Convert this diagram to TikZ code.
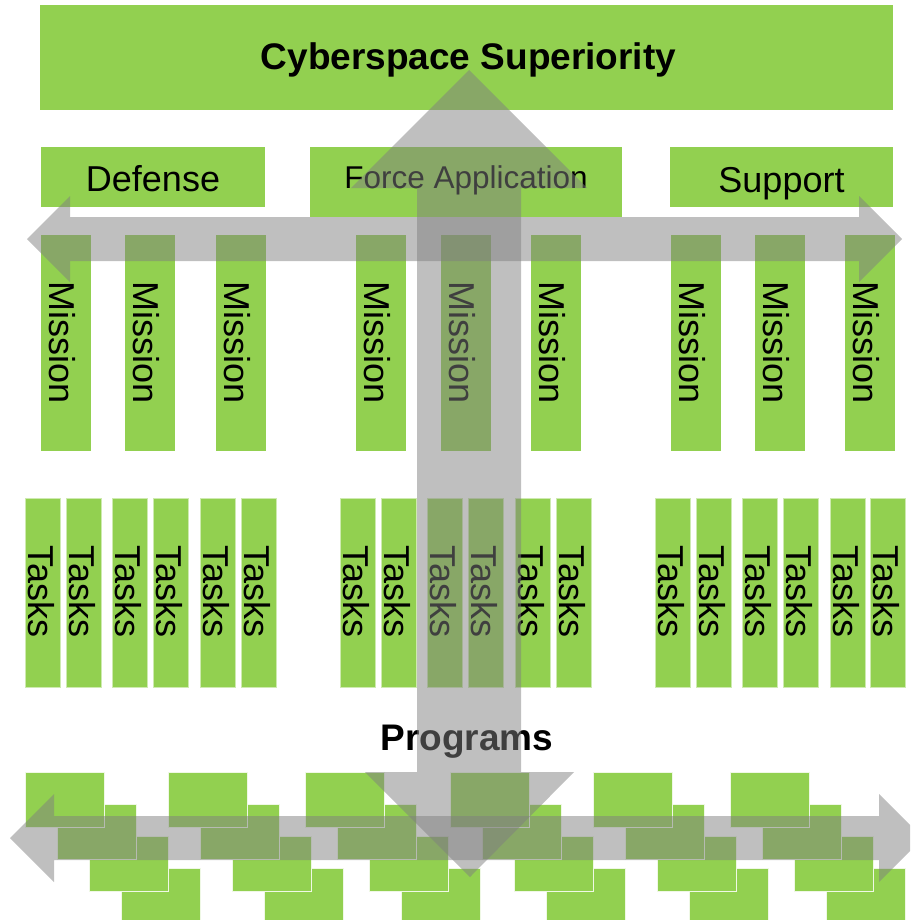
\documentclass[tikz,border=0pt]{standalone}
\usepackage{fontspec}
\setmainfont{Liberation Sans}
\definecolor{boxgreen}{HTML}{92D050}
\definecolor{arrowgray}{HTML}{7F7F7F}
\begin{document}
\begin{tikzpicture}[x=1pt,y=-1pt,
  greenbox/.style={fill=boxgreen, draw=none, inner sep=0pt, outer sep=0pt},
  taskbox/.style={fill=boxgreen, draw=white!55!boxgreen, line width=0.8pt, inner sep=0pt, outer sep=0pt,
    minimum width=35pt, minimum height=189pt},
  missionbox/.style={greenbox, minimum width=50pt, minimum height=216pt},
  progbox/.style={fill=boxgreen, draw=white!85!boxgreen, line width=1pt, inner sep=0pt, outer sep=0pt,
    minimum width=79pt, minimum height=55pt},
  labeltext/.style={inner sep=0pt, anchor=base, text=black, font=\fontsize{36}{40}\selectfont},
  headtext/.style={inner sep=0pt, anchor=base, text=black, font=\bfseries\fontsize{37}{42}\selectfont},
  vtext/.style={labeltext, rotate=-90},
  bigarrow/.style={fill=arrowgray, fill opacity=0.5, draw=none}]
\useasboundingbox (0,0) rectangle (910,920);
\clip (0,0) rectangle (910,920);

% top level
\node[greenbox, minimum width=853pt, minimum height=105pt] (top) at (466.5,57.5) {};
\node[headtext] (toptext) at (468.5,70) {Cyberspace Superiority};

% second level
\node[greenbox, minimum width=224pt, minimum height=60pt] (def) at (153,177) {};
\node[greenbox, minimum width=312pt, minimum height=70pt] (fa) at (466,182) {};
\node[greenbox, minimum width=223pt, minimum height=60pt] (sup) at (781.5,177) {};
\node[labeltext] (deftext) at (153,192) {Defense};
\node[labeltext, font=\fontsize{31.5}{36}\selectfont] (fatext) at (466,189) {Force Application};
\node[labeltext] (suptext) at (781.5,193) {Support};

% missions
\foreach \l [count=\i] in {41,125,216,356,441,531,671,755,845} {
  \node[missionbox] (m\i) at (\l+25,343) {};
  \node[vtext] (mt\i) at (\l+8.5,343) {Mission};
}

% tasks
\foreach \l [count=\i] in {25,66,112,153,200,241,340,381,427,468,515,556,655,696,742,783,830,870} {
  \node[taskbox] (t\i) at (\l+17.5,592.5) {};
  \node[vtext] (tt\i) at (\l+3,591.5) {Tasks};
}

% programs
\node[headtext] (progtext) at (467,750) {Programs};
\foreach \g [count=\j] in {25,168,305,450.5,593.5,730} {
  \foreach \k in {3,2,1,0} {
    \node[progbox] (p\j-\k) at (\g+32*\k+39.5,772+32*\k+27.5) {};
  }
}

% horizontal double arrow (missions)
\path[bigarrow] (27,239) -- (70,196) -- (70,217) -- (859,217) -- (859,196) -- (902,239)
  -- (859,282) -- (859,261) -- (70,261) -- (70,282) -- cycle;
% horizontal double arrow (programs)
\path[bigarrow] (10,838) -- (54,794) -- (54,816) -- (879,816) -- (879,794) -- (923,838)
  -- (879,882) -- (879,860) -- (54,860) -- (54,882) -- cycle;
% vertical double arrow
\path[bigarrow] (469,70) -- (587,188) -- (521,188) -- (521,772) -- (574,772) -- (470,877)
  -- (365,772) -- (417,772) -- (417,188) -- (351,188) -- cycle;
\end{tikzpicture}
\end{document}
